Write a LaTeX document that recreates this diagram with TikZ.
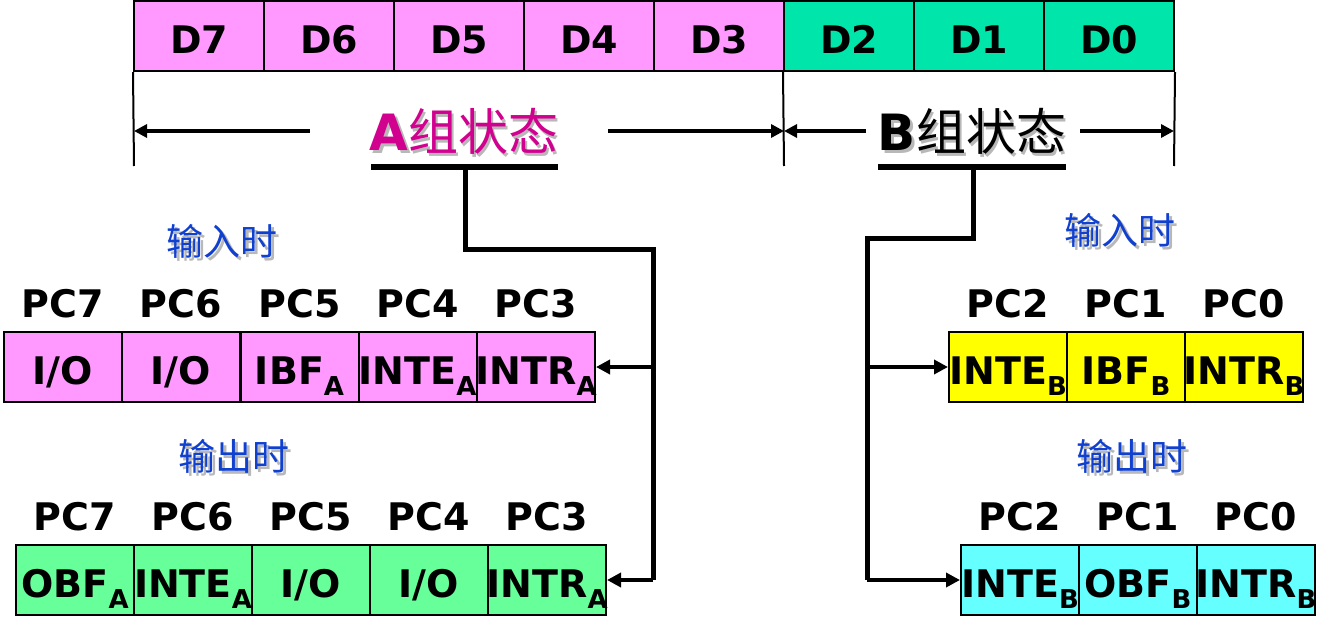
\documentclass[tikz,border=0pt]{standalone}
\usepackage{fontspec}
\setmainfont{DejaVu Sans}
\newfontfamily\cjk{Noto Sans CJK SC}
\usetikzlibrary{arrows.meta}
\definecolor{cpink}{HTML}{FF99FF}
\definecolor{cgreen}{HTML}{00E6AA}
\definecolor{clgreen}{HTML}{66FF99}
\definecolor{cyellow}{HTML}{FFFF00}
\definecolor{ccyan}{HTML}{66FFFF}
\definecolor{cmag}{HTML}{D1008F}
\definecolor{cblue}{HTML}{1040D0}
\newcommand{\shd}[2]{\makebox[0pt][l]{\hspace{2.5pt}\raisebox{-2.5pt}{\color{black!28}#2}}{\color{#1}#2}}
\newcommand{\sbx}[1]{\raisebox{-0.3em}{\fontsize{26}{26}\selectfont #1}}
\tikzset{
  cell/.style={draw, line width=2pt, minimum height=70pt, inner sep=0pt,
    text height=34pt, text depth=0pt, font=\fontsize{38}{38}\selectfont\bfseries,
    execute at begin node={\hbox to 0pt\bgroup\hss},
    execute at end node={\hss\egroup}},
  dcell/.style={cell, minimum width=130pt},
  pcell/.style={cell, minimum width=118pt},
  pclab/.style={anchor=base, inner sep=0pt, font=\fontsize{38}{38}\selectfont\bfseries},
  modelab/.style={inner sep=0pt, font=\fontsize{37}{37}\selectfont\cjk},
  title/.style={inner sep=0pt, font=\fontsize{50}{50}\selectfont},
  thin/.style={line width=2pt},
  harrow/.style={line width=4pt, -{Triangle[length=13pt,width=13pt]}},
  conn/.style={line width=5pt},
  carrow/.style={line width=4.5pt, -{Triangle[length=14pt,width=14pt]}},
  uline/.style={line width=5.5pt}
}
\begin{document}
\begin{tikzpicture}[x=1pt,y=-1pt]
\useasboundingbox (0,0) rectangle (1335,626);
% top register
\node[dcell, fill=cpink] (d7) at (199,36) {D7};
\node[dcell, fill=cpink] (d6) at (329,36) {D6};
\node[dcell, fill=cpink] (d5) at (459,36) {D5};
\node[dcell, fill=cpink] (d4) at (589,36) {D4};
\node[dcell, fill=cpink] (d3) at (719,36) {D3};
\node[dcell, fill=cgreen] (d2) at (849,36) {D2};
\node[dcell, fill=cgreen] (d1) at (979,36) {D1};
\node[dcell, fill=cgreen] (d0) at (1109,36) {D0};
% group brackets
\coordinate (la) at (134,166);
\coordinate (mb) at (784,166);
\coordinate (rb) at (1174,166);
\draw[thin] (d7.south west) -- (la);
\draw[thin] (d2.south west) -- (mb);
\draw[thin] (d0.south east) -- (rb);
\node[title] (ta) at (464,133) {\shd{cmag}{\bfseries A}\shd{cmag}{\cjk 组状态}};
\node[title] (tb) at (972,133) {\shd{black}{\bfseries B}\shd{black}{\cjk 组状态}};
\coordinate (al1) at (310,131); \coordinate (al2) at (134,131);
\coordinate (ar1) at (608,131); \coordinate (ar2) at (784,131);
\coordinate (bl1) at (866,131); \coordinate (bl2) at (784,131);
\coordinate (br1) at (1080,131); \coordinate (br2) at (1174,131);
\draw[harrow] (al1) -- (al2);
\draw[harrow] (ar1) -- (ar2);
\draw[harrow] (bl1) -- (bl2);
\draw[harrow] (br1) -- (br2);
\coordinate (ua1) at (371,167); \coordinate (ua2) at (558,167);
\coordinate (ub1) at (878,167); \coordinate (ub2) at (1066,167);
\draw[uline] (ua1) -- (ua2);
\draw[uline] (ub1) -- (ub2);
% A input
\node[modelab] (ina) at (222,243) {\shd{cblue}{输入时}};
\node[pcell, fill=cpink] (ia7) at (63,367) {I/O};
\node[pcell, fill=cpink] (ia6) at (181,367) {I/O};
\node[pcell, fill=cpink] (ia5) at (299.5,367) {IBF\sbx{A}};
\node[pcell, fill=cpink] (ia4) at (417.5,367) {INTE\sbx{A}};
\node[pcell, fill=cpink] (ia3) at (536,367) {INTR\sbx{A}};
\node[pclab] (pia7) at (63,317) {PC7};
\node[pclab] (pia6) at (181,317) {PC6};
\node[pclab] (pia5) at (299.5,317) {PC5};
\node[pclab] (pia4) at (417.5,317) {PC4};
\node[pclab] (pia3) at (536,317) {PC3};
% A output
\node[modelab] (outa) at (234,458) {\shd{cblue}{输出时}};
\node[pcell, fill=clgreen] (oa7) at (75,580) {OBF\sbx{A}};
\node[pcell, fill=clgreen] (oa6) at (193,580) {INTE\sbx{A}};
\node[pcell, fill=clgreen] (oa5) at (311,580) {I/O};
\node[pcell, fill=clgreen] (oa4) at (429,580) {I/O};
\node[pcell, fill=clgreen] (oa3) at (547,580) {INTR\sbx{A}};
\node[pclab] (poa7) at (75,530) {PC7};
\node[pclab] (poa6) at (193,530) {PC6};
\node[pclab] (poa5) at (311,530) {PC5};
\node[pclab] (poa4) at (429,530) {PC4};
\node[pclab] (poa3) at (547,530) {PC3};
% B input
\node[modelab] (inb) at (1120,232) {\shd{cblue}{输入时}};
\node[pcell, fill=cyellow] (ib2) at (1008,367) {INTE\sbx{B}};
\node[pcell, fill=cyellow] (ib1) at (1126,367) {IBF\sbx{B}};
\node[pcell, fill=cyellow] (ib0) at (1244,367) {INTR\sbx{B}};
\node[pclab] (pib2) at (1008,317) {PC2};
\node[pclab] (pib1) at (1126,317) {PC1};
\node[pclab] (pib0) at (1244,317) {PC0};
% B output
\node[modelab] (outb) at (1132,458) {\shd{cblue}{输出时}};
\node[pcell, fill=ccyan] (ob2) at (1020,580) {INTE\sbx{B}};
\node[pcell, fill=ccyan] (ob1) at (1138,580) {OBF\sbx{B}};
\node[pcell, fill=ccyan] (ob0) at (1256,580) {INTR\sbx{B}};
\node[pclab] (pob2) at (1020,530) {PC2};
\node[pclab] (pob1) at (1138,530) {PC1};
\node[pclab] (pob0) at (1256,530) {PC0};
% A connectors
\coordinate (ca0) at (465,167);
\coordinate (ca1) at (465,249);
\coordinate (ca2) at (653,249);
\coordinate (ca3) at (653,367);
\coordinate (ca4) at (653,580);
\draw[conn] (ca0) -- (ca1) -- (ca2) -- (ca4);
\draw[carrow] (ca3) -- (ia3.east);
\draw[carrow] (ca4) -- (oa3.east);
% B connectors
\coordinate (cb0) at (973,167);
\coordinate (cb1) at (973,238);
\coordinate (cb2) at (867,238);
\coordinate (cb3) at (867,367);
\coordinate (cb4) at (867,580);
\draw[conn] (cb0) -- (cb1) -- (cb2) -- (cb4);
\draw[carrow] (cb3) -- (ib2.west);
\draw[carrow] (cb4) -- (ob2.west);
\end{tikzpicture}
\end{document}
